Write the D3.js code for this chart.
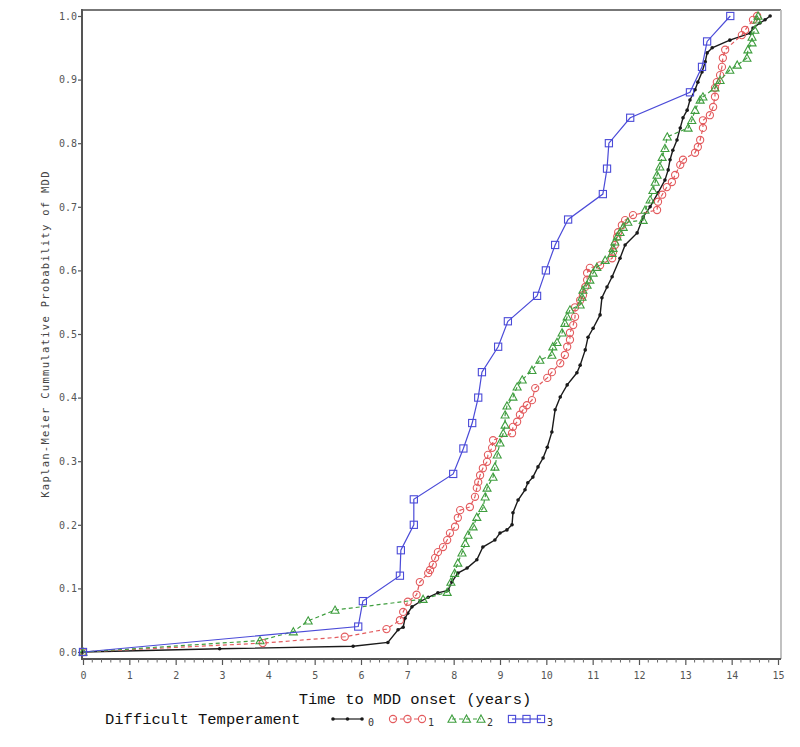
<!DOCTYPE html>
<html>
<head>
<meta charset="utf-8">
<script src="https://cdn.jsdelivr.net/npm/d3@7"></script>
<style>
  html, body { margin: 0; padding: 0; background: #fff; }
  svg { display: block; }
  text { font-family: "DejaVu Sans Mono", "Liberation Mono", monospace; }
</style>
</head>
<body>
<svg id="chart" width="800" height="747"></svg>
<script>
// ---------- DATA ----------
const xTicks = [0,1,2,3,4,5,6,7,8,9,10,11,12,13,14,15];
const yTicks = [0.0,0.1,0.2,0.3,0.4,0.5,0.6,0.7,0.8,0.9,1.0];
const groups = ["0","1","2","3"];
const legendTitle = "Difficult Temperament";
const xTitle = "Time to MDD onset (years)";
const yTitle = "Kaplan-Meier Cummulative Probability of MDD";

// Group 0 (black)
const g0Time = [0,2.95,5.83,6.58,6.80,6.91,6.95,7.01,7.10,7.27,7.45,7.66,7.88,7.96,8.09,8.29,8.50,8.63,8.89,9.00,9.15,9.26,9.28,9.39,9.54,9.60,9.71,9.82,9.93,10.02,10.12,10.19,10.30,10.45,10.66,10.73,10.84,10.90,11.01,11.16,11.20,11.31,11.42,11.59,11.70,11.96,12.09,12.24,12.41,12.56,12.63,12.67,12.73,12.82,12.89,12.95,13.04,13.10,13.21,13.27,13.36,13.43,13.47,13.58,13.96,14.40,14.46,14.61,14.72,14.83];
const g0Prob = [0,0.005,0.009,0.015,0.035,0.039,0.053,0.061,0.071,0.079,0.086,0.093,0.097,0.110,0.124,0.132,0.145,0.165,0.176,0.187,0.192,0.200,0.219,0.239,0.255,0.266,0.275,0.291,0.305,0.322,0.346,0.381,0.401,0.420,0.439,0.451,0.475,0.495,0.509,0.530,0.557,0.574,0.590,0.619,0.640,0.659,0.684,0.700,0.722,0.742,0.758,0.774,0.789,0.805,0.824,0.840,0.852,0.868,0.884,0.896,0.912,0.928,0.942,0.950,0.962,0.973,0.981,0.989,0.994,1.0];

// Group 1 (red)
const g1Time = [0,3.88,5.65,6.55,6.84,6.91,7.01,7.20,7.27,7.45,7.49,7.55,7.60,7.66,7.77,7.86,7.92,8.03,8.09,8.14,8.35,8.46,8.50,8.53,8.57,8.63,8.72,8.74,8.83,8.85,9.26,9.28,9.37,9.43,9.50,9.58,9.69,9.76,10.02,10.12,10.30,10.40,10.45,10.51,10.51,10.58,10.62,10.62,10.73,10.79,10.84,10.88,10.88,10.94,11.16,11.42,11.44,11.48,11.53,11.55,11.63,11.70,11.87,12.39,12.41,12.50,12.60,12.71,12.78,12.89,12.95,13.21,13.27,13.32,13.38,13.38,13.53,13.60,13.64,13.64,13.68,13.75,13.79,13.81,13.86,14.22,14.29,14.46,14.55];
const g1Prob = [0,0.014,0.024,0.036,0.050,0.063,0.079,0.090,0.110,0.124,0.129,0.137,0.148,0.157,0.165,0.176,0.187,0.197,0.211,0.223,0.228,0.244,0.258,0.267,0.278,0.289,0.299,0.310,0.321,0.333,0.344,0.354,0.362,0.373,0.381,0.388,0.396,0.415,0.431,0.440,0.454,0.467,0.480,0.491,0.502,0.514,0.527,0.542,0.553,0.561,0.574,0.585,0.596,0.604,0.608,0.619,0.629,0.640,0.653,0.660,0.671,0.679,0.687,0.695,0.708,0.719,0.731,0.739,0.750,0.766,0.774,0.785,0.794,0.805,0.824,0.836,0.844,0.857,0.873,0.887,0.896,0.907,0.920,0.934,0.947,0.970,0.978,0.994,1.0];

// Group 2 (green)
const g2Time = [0,3.82,4.54,4.86,5.44,7.34,7.86,7.94,8.02,8.09,8.18,8.25,8.31,8.42,8.50,8.63,8.68,8.72,8.85,8.89,8.94,9.00,9.07,9.11,9.11,9.15,9.28,9.37,9.48,9.69,9.86,10.12,10.14,10.23,10.34,10.40,10.45,10.51,10.73,10.77,10.79,10.88,10.94,11.01,11.09,11.27,11.42,11.44,11.48,11.53,11.59,11.66,11.76,12.09,12.13,12.24,12.30,12.35,12.39,12.45,12.50,12.56,12.61,13.06,13.14,13.21,13.32,13.38,13.64,13.75,13.96,14.12,14.33,14.35,14.44,14.44,14.50,14.55,14.57];
const g2Prob = [0,0.018,0.032,0.049,0.066,0.083,0.094,0.110,0.124,0.140,0.156,0.171,0.184,0.197,0.212,0.226,0.244,0.258,0.275,0.291,0.310,0.329,0.344,0.357,0.373,0.387,0.401,0.417,0.428,0.443,0.459,0.467,0.480,0.487,0.502,0.517,0.527,0.538,0.546,0.558,0.569,0.577,0.585,0.596,0.605,0.616,0.627,0.635,0.645,0.653,0.660,0.668,0.676,0.679,0.695,0.711,0.726,0.739,0.750,0.763,0.778,0.792,0.810,0.824,0.836,0.852,0.868,0.873,0.887,0.899,0.915,0.923,0.934,0.947,0.958,0.967,0.978,0.994,1.0];

// Group 3 (blue)
const g3Time = [0,5.94,6.04,6.84,6.86,7.14,7.14,7.99,8.21,8.40,8.53,8.61,8.96,9.17,9.80,9.99,10.19,10.47,11.22,11.31,11.35,11.81,13.10,13.36,13.47,13.97];
const g3Prob = [0,0.04,0.08,0.12,0.16,0.20,0.24,0.28,0.32,0.36,0.40,0.44,0.48,0.52,0.56,0.60,0.64,0.68,0.72,0.76,0.80,0.84,0.88,0.92,0.96,1.00];

// ---------- STYLES ----------
const styles = {
  "0": {color: "#1a1a1a", dash: null, symbol: "dot", width: 1.4},
  "1": {color: "#e35b5e", dash: "4,3", symbol: "circle", width: 1.2},
  "2": {color: "#3f9e3f", dash: "4,3", symbol: "triangle", width: 1.2},
  "3": {color: "#4b4bd8", dash: null, symbol: "square", width: 1.2}
};
const series = [
  {key: "0", t: g0Time, p: g0Prob},
  {key: "1", t: g1Time, p: g1Prob},
  {key: "2", t: g2Time, p: g2Prob},
  {key: "3", t: g3Time, p: g3Prob}
];

const svg = d3.select("#chart");
const x = d3.scaleLinear().domain([0, 15]).range([83, 778]);
const y = d3.scaleLinear().domain([0, 1]).range([652, 16]);

// frame
const fx0 = 82, fx1 = 781, fy0 = 10, fy1 = 659;
svg.append("line").attr("x1", fx0).attr("x2", fx1).attr("y1", fy0).attr("y2", fy0)
  .attr("stroke", "#777").attr("stroke-width", 1.8);
svg.append("line").attr("x1", fx1).attr("x2", fx1).attr("y1", fy0).attr("y2", fy1)
  .attr("stroke", "#bbb").attr("stroke-width", 1.8);

// y axis
const yAxis = d3.axisLeft(y).tickValues(yTicks).tickFormat(d3.format(".1f")).tickSize(4).tickSizeOuter(0);
const gy = svg.append("g").attr("transform", `translate(${fx0},0)`).call(yAxis);
gy.select(".domain").remove();
svg.append("line").attr("x1", fx0).attr("x2", fx0).attr("y1", fy0 - 1).attr("y2", fy1 + 1)
  .attr("stroke", "#555").attr("stroke-width", 2);
gy.selectAll(".tick line").attr("stroke", "#555").attr("stroke-width", 1.2);
gy.selectAll(".tick text").attr("fill", "#555").style("font-size", "10px")
  .style("font-family", "'DejaVu Sans Mono', monospace").attr("x", -5);

// x axis
const xAxis = d3.axisBottom(x).tickValues(xTicks).tickFormat(d3.format("d")).tickSize(6).tickSizeOuter(0);
const gx = svg.append("g").attr("transform", `translate(0,${fy1})`).call(xAxis);
gx.select(".domain").remove();
svg.append("line").attr("x1", fx0 - 1).attr("x2", fx1).attr("y1", fy1).attr("y2", fy1)
  .attr("stroke", "#555").attr("stroke-width", 2);
gx.selectAll(".tick line").attr("stroke", "#555").attr("stroke-width", 1.2);
gx.selectAll(".tick text").attr("fill", "#555").style("font-size", "10px")
  .style("font-family", "'DejaVu Sans Mono', monospace").attr("y", 13);
// minor ticks
const minor = d3.range(0, 15.001, 0.2).filter(v => Math.abs(v - Math.round(v)) > 1e-6);
svg.append("g").selectAll("line").data(minor).join("line")
  .attr("x1", d => x(d)).attr("x2", d => x(d)).attr("y1", fy1).attr("y2", fy1 + 3.5)
  .attr("stroke", "#666").attr("stroke-width", 1);

// titles
svg.append("text").attr("x", 415).attr("y", 704).attr("text-anchor", "middle")
  .style("font-family", "'Liberation Mono', monospace")
  .style("font-size", "15.5px").attr("fill", "#111").text(xTitle);
svg.append("text").attr("transform", "translate(49,334) rotate(-90)").attr("text-anchor", "middle")
  .style("font-size", "10.5px").style("letter-spacing", "1.3px").attr("fill", "#444").text(yTitle);

// symbol drawer
function drawSymbol(g, kind, color, cx, cy) {
  if (kind === "dot") {
    g.append("circle").attr("cx", cx).attr("cy", cy).attr("r", 1.8).attr("fill", color);
  } else if (kind === "circle") {
    g.append("circle").attr("cx", cx).attr("cy", cy).attr("r", 3.6)
      .attr("fill", "none").attr("stroke", color).attr("stroke-width", 1.1);
  } else if (kind === "triangle") {
    const s = 4.0;
    g.append("path").attr("d", `M${cx},${cy - s}L${cx + s},${cy + s * 0.8}L${cx - s},${cy + s * 0.8}Z`)
      .attr("fill", "none").attr("stroke", color).attr("stroke-width", 1.1);
  } else if (kind === "square") {
    const s = 3.6;
    g.append("rect").attr("x", cx - s).attr("y", cy - s).attr("width", 2 * s).attr("height", 2 * s)
      .attr("fill", "none").attr("stroke", color).attr("stroke-width", 1.1);
  }
}

// curves
const line = d3.line().x(d => x(d[0])).y(d => y(d[1]));
series.forEach(s => {
  const st = styles[s.key];
  const pts = s.t.map((t, i) => [t, s.p[i]]);
  const g = svg.append("g");
  g.append("path").datum(pts).attr("d", line).attr("fill", "none")
    .attr("stroke", st.color).attr("stroke-width", st.width)
    .attr("stroke-dasharray", st.dash);
  pts.forEach(d => drawSymbol(g, st.symbol, st.color, x(d[0]), y(d[1])));
});

// legend
svg.append("text").attr("x", 105).attr("y", 724)
  .style("font-family", "'Liberation Mono', monospace")
  .style("font-size", "15.5px").attr("fill", "#111").text(legendTitle);
const legX = [333, 393, 452, 512];
groups.forEach((k, i) => {
  const st = styles[k];
  const g = svg.append("g");
  const x0 = legX[i], x1 = legX[i] + 29, ly = 719;
  g.append("line").attr("x1", x0).attr("x2", x1).attr("y1", ly).attr("y2", ly)
    .attr("stroke", st.color).attr("stroke-width", 1.2).attr("stroke-dasharray", st.dash);
  [x0, (x0 + x1) / 2, x1].forEach(px => drawSymbol(g, st.symbol, st.color, px, ly));
  g.append("text").attr("x", x1 + 6).attr("y", 726).style("font-size", "10px").attr("fill", "#333").text(k);
});
</script>
</body>
</html>
